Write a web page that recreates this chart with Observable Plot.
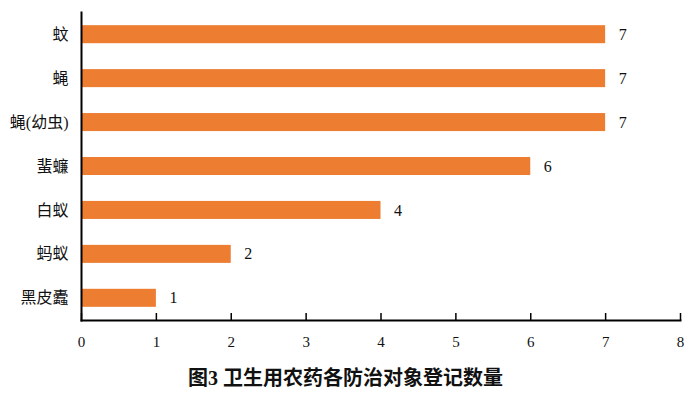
<!DOCTYPE html>
<html>
<head>
<meta charset="utf-8">
<script src="https://cdn.jsdelivr.net/npm/d3@7"></script>
<script src="https://cdn.jsdelivr.net/npm/@observablehq/plot@0.6"></script>
<style>
  body { margin: 0; background: #fff; }
  #chart { width: 691px; }
  .caption { width: 691px; height: 39px; text-align: center; font-family: "Liberation Serif", "Noto Sans CJK SC", serif; font-weight: bold; font-size: 20px; line-height: 28px; padding-top: 9px; box-sizing: border-box; color: #111; }
</style>
</head>
<body>
<div id="chart"></div>
<script>
const categories = ["蚊", "蝇", "蝇(幼虫)", "蜚蠊", "白蚁", "蚂蚁", "黑皮蠹"];
const counts = [7, 7, 7, 6, 4, 2, 1];
const xTicks = [0, 1, 2, 3, 4, 5, 6, 7, 8];
const title = "图3 卫生用农药各防治对象登记数量";

const data = categories.map((c, i) => ({category: c, count: counts[i]}));
const serif = "'Liberation Serif', 'Noto Sans CJK SC', serif";

const chart = Plot.plot({
  width: 691,
  height: 355,
  marginLeft: 81,
  marginRight: 11,
  marginTop: 12,
  marginBottom: 35,
  style: {fontFamily: serif, background: "#fff", color: "#111"},
  x: {domain: [0, 8], ticks: xTicks, label: null},
  y: {domain: categories, paddingInner: 0.59, paddingOuter: 0.3, round: false, label: null},
  marks: [
    Plot.barX(data, {x: "count", y: "category", fill: "#ED7D31"}),
    Plot.text(data, {x: "count", y: "category", text: d => String(d.count), dx: 13, textAnchor: "start", fontSize: 16, fill: "#111"}),
    Plot.ruleX(xTicks, {x: d => d, insetTop: 301, stroke: "#000", strokeWidth: 1.5}),
    Plot.frame({anchor: "bottom", stroke: "#000", strokeWidth: 2}),
    Plot.frame({anchor: "left", stroke: "#000", strokeWidth: 2}),
    Plot.axisX({ticks: xTicks, tickSize: 0, tickPadding: 16, fontSize: 15, label: null, tickFormat: d => String(d)}),
    Plot.axisY({tickSize: 0, tickPadding: 13, fontSize: 16, label: null})
  ]
});
document.getElementById("chart").appendChild(chart);
const cap = document.createElement("div");
cap.className = "caption";
cap.textContent = title;
document.body.appendChild(cap);
</script>
</body>
</html>
